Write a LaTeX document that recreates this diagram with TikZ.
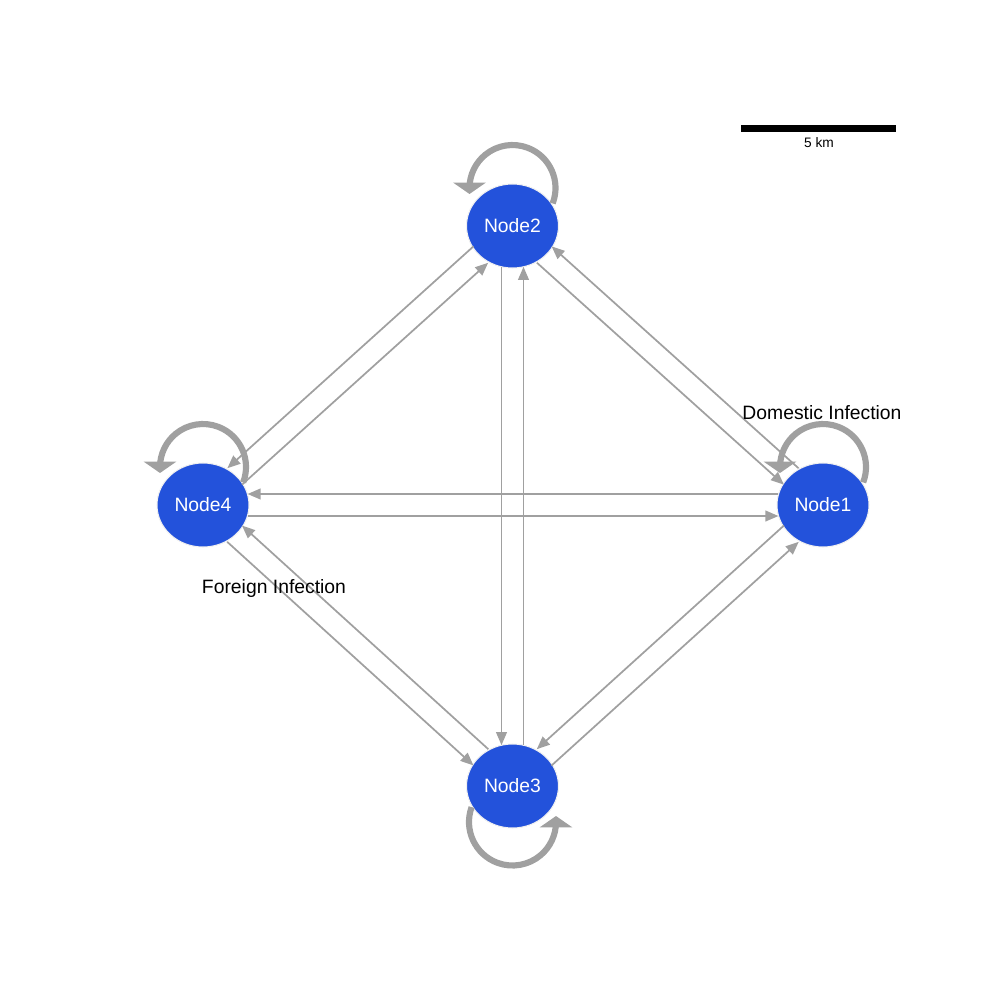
\documentclass[tikz,border=0pt]{standalone}
\usepackage{fontspec}
\setmainfont{Liberation Sans}
\usetikzlibrary{arrows.meta,calc,shapes.geometric}
\definecolor{nodeblue}{RGB}{35,82,219}
\definecolor{edgegray}{RGB}{160,160,160}
\newcommand\pairedge[3]{\draw[edge, shorten <=#3, shorten >=#3] ($(#1)!8.25pt!-90:(#2)$) -- ($(#2)!8.25pt!90:(#1)$);}
\begin{document}
\begin{tikzpicture}[x=0.75pt,y=0.75pt,
  vertex/.style={ellipse, fill=nodeblue, draw=gray!12, line width=0.8pt,
    minimum width=69pt, minimum height=63pt, inner sep=0pt, text=white,
    font=\fontsize{14.5}{17}\selectfont},
  edge/.style={draw=edgegray, line width=1.3pt, -{Triangle[length=9.75pt,width=8pt]}},
  loopedge/.style={draw=edgegray, line width=4.6pt, -{Triangle[length=8.5pt,width=24pt]}},
  lbl/.style={inner sep=0pt, font=\fontsize{14.5}{17}\selectfont, text=black},
  scalelbl/.style={inner sep=0pt, font=\fontsize{10.3}{12}\selectfont, text=black}]
\useasboundingbox (0,0) rectangle (1000,-1000);

\node[vertex] (n1) at (823,-505) {Node1};
\node[vertex] (n2) at (512.5,-226) {Node2};
\node[vertex] (n3) at (512.5,-786) {Node3};
\node[vertex] (n4) at (203,-505) {Node4};

% paired directed edges
\pairedge{n2}{n3}{30.6pt}
\pairedge{n3}{n2}{30.6pt}
\pairedge{n1}{n4}{33.4pt}
\pairedge{n4}{n1}{33.4pt}
\pairedge{n2}{n4}{32pt}
\pairedge{n4}{n2}{32pt}
\pairedge{n2}{n1}{32pt}
\pairedge{n1}{n2}{32pt}
\pairedge{n4}{n3}{32pt}
\pairedge{n3}{n4}{32pt}
\pairedge{n1}{n3}{32pt}
\pairedge{n3}{n1}{32pt}

% self loops
\draw[loopedge] ($(n2)+(0,38)$) ++(-21:43) arc[start angle=-21,end angle=180,radius=43] -- ++(0,-6);
\draw[loopedge] ($(n1)+(0,38)$) ++(-21:43) arc[start angle=-21,end angle=180,radius=43] -- ++(0,-6);
\draw[loopedge] ($(n4)+(0,38)$) ++(-21:43) arc[start angle=-21,end angle=180,radius=43] -- ++(0,-6);
\draw[loopedge] ($(n3)+(0,-36)$) ++(160:43.5) arc[start angle=160,end angle=360,radius=43.5] -- ++(0,6);

% labels
\node[lbl] (dom) at (822,-413) {Domestic Infection};
\node[lbl] (for) at (274,-588) {Foreign Infection};

% scale bar
\fill[black] (741,-124.5) rectangle (896,-131.5);
\node[scalelbl] (km) at (819,-143) {5 km};
\end{tikzpicture}
\end{document}
